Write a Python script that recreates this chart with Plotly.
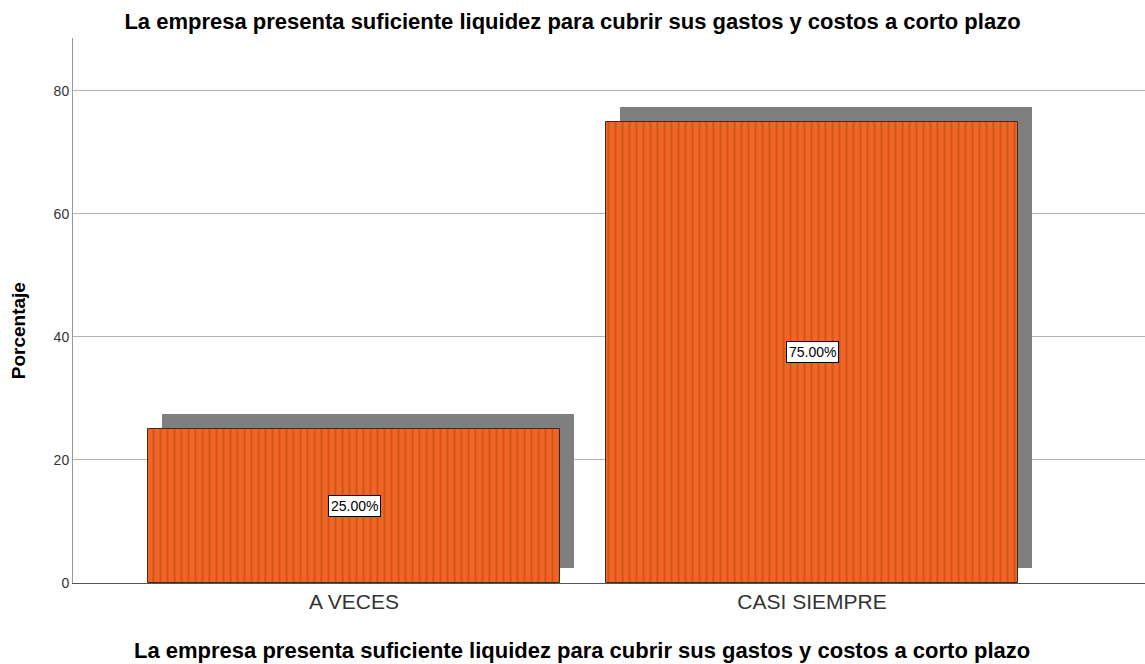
import plotly.graph_objects as go

categories = ["A VECES", "CASI SIEMPRE"]
values = [25.0, 75.0]
labels = ["25.00%", "75.00%"]
yticks = [0, 20, 40, 60, 80]

title = "La empresa presenta suficiente liquidez para cubrir sus gastos y costos a corto plazo"
y_title = "Porcentaje"

pos = list(range(len(categories)))
shadow_dx = 0.031
shadow_dy = 2.45

FONT = "Liberation Sans, Arial"

fig = go.Figure()
# shadow
fig.add_trace(go.Bar(
    x=[p + shadow_dx for p in pos], y=values, base=[shadow_dy] * len(values),
    width=0.9, marker=dict(color="#7f7f7f", line=dict(width=0)),
    hoverinfo="skip", showlegend=False))
# bars
fig.add_trace(go.Bar(
    x=pos, y=values, width=0.9,
    marker=dict(color="#F26524", line=dict(color="#3a2a20", width=1),
                pattern=dict(shape="|", fgcolor="#a5461c", bgcolor="#F26524",
                             size=7, solidity=0.28)),
    showlegend=False))

for p, v, t in zip(pos, values, labels):
    fig.add_annotation(x=p, y=v / 2, text=t, showarrow=False,
                       font=dict(family=FONT, size=14, color="#000"),
                       bgcolor="white", bordercolor="#000", borderwidth=1, borderpad=2)

# axis titles as annotations (positioned like the reference)
fig.add_annotation(xref="paper", yref="paper", x=0.475, y=-0.123, text="<b>" + title + "</b>",
                   showarrow=False, xanchor="center", yanchor="middle",
                   font=dict(family=FONT, size=22, color="#000"))
fig.add_annotation(xref="paper", yref="paper", x=-0.0513, y=0.462, text="<b>" + y_title + "</b>",
                   showarrow=False, xanchor="center", yanchor="middle", textangle=-90,
                   font=dict(family=FONT, size=19, color="#000"))

fig.update_layout(
    width=1145, height=664,
    margin=dict(l=73, r=0, t=38, b=81),
    paper_bgcolor="white", plot_bgcolor="white",
    barmode="overlay", bargap=0,
    font=dict(family=FONT, color="#333"),
    title=dict(text="<b>" + title + "</b>", x=0.5, xanchor="center", y=0.968, yanchor="middle",
               font=dict(size=22, color="#000")),
    xaxis=dict(range=[-0.6135, 1.727], tickvals=pos, ticktext=categories,
               showgrid=False, zeroline=False, showline=True, linecolor="#555", linewidth=1,
               ticks="", tickfont=dict(size=21, color="#333")),
    yaxis=dict(range=[0, 88.6], tickvals=yticks, showgrid=True, gridcolor="#b4b4b4", gridwidth=1,
               zeroline=False, showline=True, linecolor="#9a9a9a", linewidth=1, ticks="",
               tickfont=dict(size=14, color="#333")),
)

fig.write_html("out.html")
